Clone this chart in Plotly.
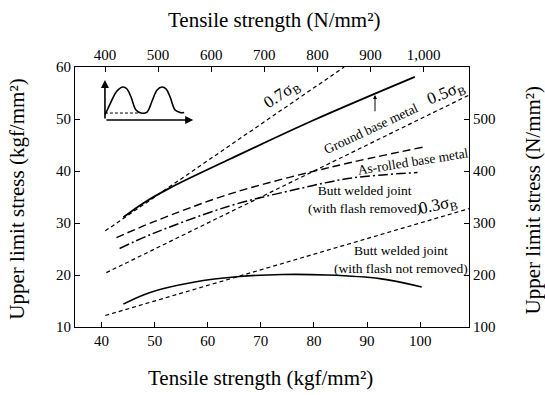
import plotly.graph_objects as go

# ---------------- data ----------------
ratio_07_x = [40.7, 85.7]
ratio_05_x = [40.9, 109.2]
ratio_03_x = [40.7, 109.2]

ground_x = [44.1, 48.0, 53.0, 64.2, 80.0, 99.0]
ground_y = [31.1, 33.9, 36.8, 42.3, 49.8, 58.1]

asrolled_x = [42.8, 50.0, 64.2, 83.0, 100.6]
asrolled_y = [27.2, 30.3, 35.6, 40.7, 44.6]

flashrem_x = [43.4, 50.0, 64.2, 75.5, 86.8, 99.5]
flashrem_y = [25.1, 28.1, 33.3, 36.2, 38.6, 39.7]

flashnot_x = [44.1, 49.0, 57.3, 66.0, 74.0, 82.4, 92.4, 100.3]
flashnot_y = [14.4, 16.6, 18.6, 19.7, 20.1, 20.0, 19.3, 17.7]

# inset wave (inset units: t, sigma)
wave_t = [0, 6, 12, 18, 22, 26, 31, 36, 42, 47, 52, 57, 61, 65, 70, 75, 79]
wave_s = [5, 18, 29, 33, 31, 23, 10, 7, 8, 19, 30, 33, 31, 23, 10, 7.5, 7.5]

bottom_ticks = [40, 50, 60, 70, 80, 90, 100]
left_ticks = [10, 20, 30, 40, 50, 60]
top_ticks = [400, 500, 600, 700, 800, 900, 1000]
top_labels = ["400", "500", "600", "700", "800", "900", "1,000"]
right_ticks = [100, 200, 300, 400, 500]

FONT = "Liberation Serif"
X_RANGE = [35, 109.2]
Y_RANGE = [10, 60]
TOP_OFFSET = 0.65

fig = go.Figure()

def ratio_line(xs, k):
    fig.add_trace(go.Scatter(x=xs, y=[k * v for v in xs], mode="lines",
                             line=dict(color="black", width=1.2, dash="4px,3px"),
                             showlegend=False, hoverinfo="skip"))

ratio_line(ratio_07_x, 0.7)
ratio_line(ratio_05_x, 0.5)
ratio_line(ratio_03_x, 0.3)

fig.add_trace(go.Scatter(x=ground_x, y=ground_y, mode="lines", line_shape="spline",
                         line=dict(color="black", width=1.8), showlegend=False))
fig.add_trace(go.Scatter(x=asrolled_x, y=asrolled_y, mode="lines", line_shape="spline",
                         line=dict(color="black", width=1.4, dash="8px,4px"), showlegend=False))
fig.add_trace(go.Scatter(x=flashrem_x, y=flashrem_y, mode="lines", line_shape="spline",
                         line=dict(color="black", width=1.5, dash="10px,3px,2px,3px"), showlegend=False))
fig.add_trace(go.Scatter(x=flashnot_x, y=flashnot_y, mode="lines", line_shape="spline",
                         line=dict(color="black", width=1.6), showlegend=False))

# secondary axes carriers
fig.add_trace(go.Scatter(x=[(X_RANGE[0] - TOP_OFFSET) * 10], y=[None], xaxis="x2", yaxis="y",
                         mode="markers", showlegend=False, hoverinfo="skip"))
fig.add_trace(go.Scatter(x=[None], y=[200], xaxis="x", yaxis="y2",
                         mode="markers", showlegend=False, hoverinfo="skip"))

# inset
fig.add_trace(go.Scatter(x=wave_t, y=wave_s, xaxis="x3", yaxis="y3", mode="lines",
                         line_shape="spline", line=dict(color="black", width=1.6),
                         showlegend=False, hoverinfo="skip"))
fig.add_trace(go.Scatter(x=[0, 35], y=[7, 7], xaxis="x3", yaxis="y3", mode="lines",
                         line=dict(color="black", width=1, dash="3px,2px"),
                         showlegend=False, hoverinfo="skip"))

axis_common = dict(showgrid=False, zeroline=False, ticks="inside", ticklen=5,
                   tickcolor="black", linecolor="black", linewidth=1.2,
                   tickfont=dict(family=FONT, size=15, color="black"))

fig.update_layout(
    width=545, height=395,
    margin=dict(l=75, r=76, t=67, b=68),
    paper_bgcolor="white", plot_bgcolor="white",
    font=dict(family=FONT, color="black"),
    xaxis=dict(range=X_RANGE, tickvals=bottom_ticks, showline=True, **axis_common),
    yaxis=dict(range=Y_RANGE, tickvals=left_ticks, showline=True, **axis_common),
    xaxis2=dict(range=[(X_RANGE[0] - TOP_OFFSET) * 10, (X_RANGE[1] - TOP_OFFSET) * 10],
                overlaying="x", side="top", tickvals=top_ticks, ticktext=top_labels,
                showline=True, **axis_common),
    yaxis2=dict(range=[Y_RANGE[0] * 10, Y_RANGE[1] * 10], overlaying="y", side="right",
                tickvals=right_ticks, showline=True, **axis_common),
    xaxis3=dict(domain=[0.076, 0.30], range=[0, 88], anchor="y3", visible=False),
    yaxis3=dict(domain=[0.796, 0.95], range=[0, 40], anchor="x3", visible=False),
)

ann = []
def txt(text, x, y, size=12, angle=0, xref="x", yref="y"):
    ann.append(dict(text=text, x=x, y=y, xref=xref, yref=yref, showarrow=False,
                    xanchor="center", yanchor="middle", textangle=angle,
                    font=dict(family=FONT, size=size, color="black")))

txt("0.7σ<sub>B</sub>", 74.0, 54.6, size=17, angle=-33)
txt("0.5σ<sub>B</sub>", 104.8, 54.8, size=17, angle=-22)
txt("0.3σ<sub>B</sub>", 103.4, 33.3, size=17, angle=-12)
txt("Ground base metal", 90.8, 48.1, size=13.5, angle=-25)
txt("As-rolled base metal", 98.7, 41.9, size=13.5, angle=-9)
txt("Butt welded joint<br>(with flash removed)", 89.5, 34.6, size=13.5)
txt("Butt welded joint<br>(with flash not removed)", 96.3, 22.9, size=13.5)

# titles
txt("Tensile strength (kgf/mm²)", 0.47, -0.196, size=21, xref="paper", yref="paper")
txt("Tensile strength (N/mm²)", 0.505, 1.18, size=21, xref="paper", yref="paper")
txt("Upper limit stress (kgf/mm²)", -0.147, 0.49, size=21, angle=-90, xref="paper", yref="paper")
txt("Upper limit stress (N/mm²)", 1.162, 0.49, size=21, angle=-90, xref="paper", yref="paper")

# inset labels
txt("<i>σ</i>", -9, 39, size=14, xref="x3", yref="y3")
txt("2.0", -8, 8, size=9, xref="x3", yref="y3")
txt("<i>t</i>", 95, -1, size=16, xref="x3", yref="y3")

# inset axes arrows
ann.append(dict(x=0, y=40, ax=0, ay=0, xref="x3", yref="y3", axref="x3", ayref="y3",
                showarrow=True, arrowhead=2, arrowsize=1, arrowwidth=1.6, arrowcolor="black", text=""))
ann.append(dict(x=88, y=0, ax=0, ay=0, xref="x3", yref="y3", axref="x3", ayref="y3",
                showarrow=True, arrowhead=2, arrowsize=1, arrowwidth=1.6, arrowcolor="black", text=""))

# arrow to ground base metal curve
ann.append(dict(x=91.5, y=54.6, ax=91.5, ay=51.2, xref="x", yref="y", axref="x", ayref="y",
                showarrow=True, arrowhead=2, arrowsize=0.8, arrowwidth=1, arrowcolor="black", text=""))

fig.update_layout(annotations=ann)
fig.write_html("out.html")
